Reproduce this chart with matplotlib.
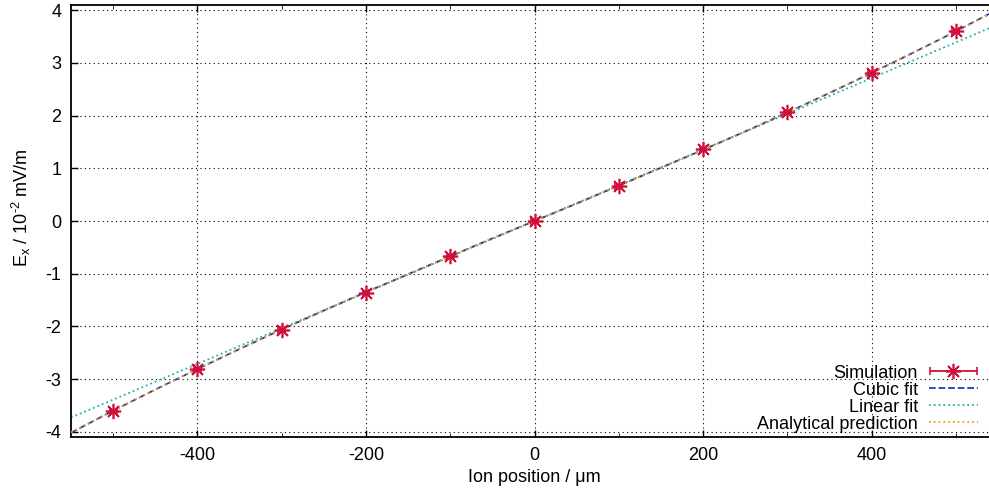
import numpy as np
import matplotlib.pyplot as plt
from matplotlib.container import ErrorbarContainer
from matplotlib.legend_handler import HandlerErrorbar

plt.rcParams['font.family'] = ['Liberation Sans', 'DejaVu Sans']
plt.rcParams['axes.unicode_minus'] = False
plt.rcParams['mathtext.fontset'] = 'custom'
plt.rcParams['mathtext.rm'] = 'Liberation Sans'
plt.rcParams['mathtext.it'] = 'Liberation Sans:italic'

# simulated field at ion positions (um), 10^-2 mV/m
pos_sim = [-500, -400, -300, -200, -100, 0, 100, 200, 300, 400, 500]
ex_sim = [-3.60, -2.81, -2.07, -1.36, -0.67, 0.0, 0.67, 1.36, 2.07, 2.81, 3.60]
pos_err = [4, 4, 4, 4, 4, 4, 4, 4, 4, 4, 4]

# fitted / predicted curves
pos_curve = [-550, -500, -450, -400, -350, -300, -250, -200, -150, -100, -50, 0,
             50, 100, 150, 200, 250, 300, 350, 400, 450, 500, 550]
ex_cubic = [-4.02, -3.60, -3.20, -2.81, -2.43, -2.06, -1.70, -1.35, -1.01, -0.67, -0.33, 0.0,
            0.33, 0.67, 1.01, 1.35, 1.70, 2.06, 2.43, 2.81, 3.20, 3.60, 4.02]
ex_analytic = [-4.01, -3.60, -3.20, -2.81, -2.43, -2.06, -1.70, -1.35, -1.01, -0.67, -0.33, 0.0,
               0.33, 0.67, 1.01, 1.35, 1.70, 2.06, 2.43, 2.81, 3.20, 3.60, 4.01]
pos_lin = [-550, 550]
ex_lin = [-3.73, 3.73]

fig = plt.figure(figsize=(9.89, 4.95), dpi=100)
ax = fig.add_axes([71/989, 58/495, 927/989, 432/495])

sim = ax.errorbar(pos_sim, ex_sim, xerr=pos_err, fmt='', marker=(8, 2, 0), ls='none',
                  ms=11, mew=1.2, color='#d0103a', ecolor='#d0103a', elinewidth=1.3,
                  capsize=3, capthick=1.3, label='Simulation', zorder=6)
l1, = ax.plot(pos_curve, ex_cubic, '--', color='#1f3fa8', lw=1.3, label='Cubic fit', zorder=3)
l2, = ax.plot(pos_lin, ex_lin, ':', color='#20b2aa', lw=1.3, label='Linear fit', zorder=2)
l3, = ax.plot(pos_curve, ex_analytic, ':', color='#f0a020', lw=1.3,
              label='Analytical prediction', zorder=4)

ax.legend([sim, l1, l2, l3], ['Simulation', 'Cubic fit', 'Linear fit', 'Analytical prediction'],
          loc='lower right', bbox_to_anchor=(0.978, 0.01), numpoints=1,
          frameon=False, markerfirst=False, borderpad=0, borderaxespad=0,
          handlelength=2.7, handletextpad=0.6, labelspacing=0.0, fontsize=13,
          handler_map={ErrorbarContainer: HandlerErrorbar(xerr_size=1.3)})

ax.set_xlim(-550, 550)
ax.set_ylim(-4.1, 4.1)
ax.set_xticks(np.arange(-400, 401, 200))
ax.set_xticks(np.arange(-500, 501, 200), minor=True)
ax.set_yticks(np.arange(-4, 5, 1))
ax.grid(True, which='major', color='black', ls=(0, (1, 3)), lw=0.8)
ax.tick_params(direction='in', top=True, right=True, labelsize=13, length=5, width=1, pad=7)
ax.tick_params(which='minor', direction='in', top=True, right=True, length=3)
for s in ax.spines.values():
    s.set_linewidth(1.3)

ax.set_xlabel('Ion position / \u03bcm', fontsize=13, labelpad=4)
ax.set_ylabel('E$_\\mathregular{x}$ / 10$^{\\text{-2}}$ mV/m', fontsize=13)
ax.yaxis.set_label_coords(-0.041, 0.53)

fig.savefig('out.png', dpi=100)
